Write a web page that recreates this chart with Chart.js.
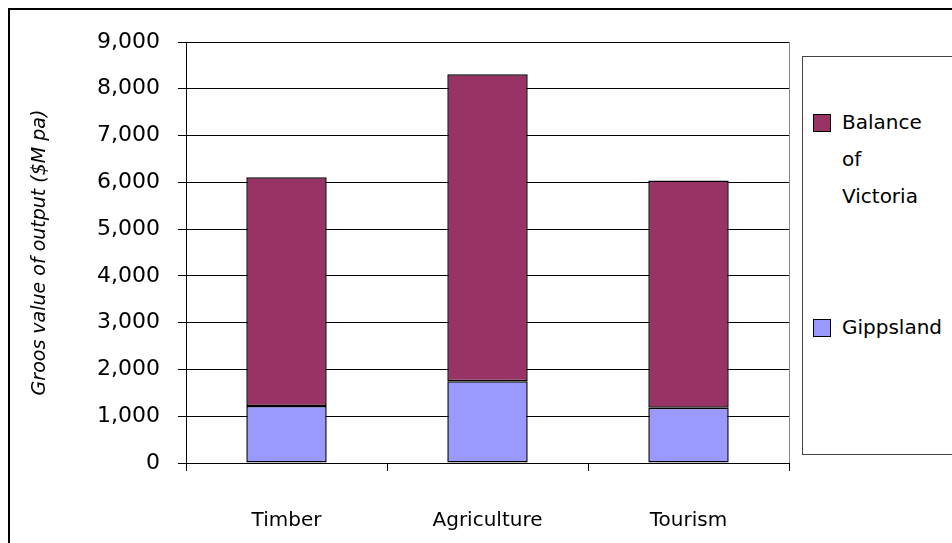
<!DOCTYPE html>
<html lang="en">
<head>
    <meta charset="UTF-8">
    <title>Gross value of output - Gippsland vs Balance of Victoria</title>
    <script src="https://cdn.jsdelivr.net/npm/chart.js"></script>
    <style>
        body { margin: 0; overflow: hidden; background: #fff; font-family: 'Comic Sans MS', 'DejaVu Sans', sans-serif; }
        #wrap { position: relative; width: 952px; height: 543px; overflow: hidden; }
        #frame { position: absolute; left: 8px; top: 8px; width: 1000px; height: 600px; border: 2px solid #000; }
        #chart { position: absolute; left: 0; top: 0; }
        #legend { position: absolute; left: 802px; top: 56px; width: 200px; height: 397px; border: 1px solid #444; background: #fff; }
        .item { position: absolute; left: 10px; font-size: 20px; line-height: 37px; color: #000; }
        .swatch { position: absolute; left: 0; top: 10px; width: 16px; height: 16px; border: 1.5px solid #000; }
        .label { margin-left: 29px; width: 92px; }
    </style>
</head>
<body>
<div id="wrap">
    <div id="frame"></div>
    <canvas id="chart" width="952" height="543"></canvas>
    <div id="legend"></div>
</div>

<script>
    // categories and stacked values ($M pa)
    const sectors = ["Timber", "Agriculture", "Tourism"];
    const gippsland = [1220, 1750, 1180];
    const balanceOfVictoria = [4890, 6560, 4860];
    const seriesNames = ["Gippsland", "Balance of Victoria"];
    const seriesColors = ["#9999FF", "#993366"];
    const yTickStep = 1000;
    const yMax = 9000;

    const fontFamily = "'Comic Sans MS', 'DejaVu Sans', sans-serif";

    // thin grey frame on the right side of the plot area
    const plotFrame = {
        id: "plotFrame",
        afterDraw(chart) {
            const { ctx, chartArea } = chart;
            ctx.save();
            ctx.strokeStyle = "#888";
            ctx.lineWidth = 1;
            ctx.beginPath();
            ctx.moveTo(Math.round(chartArea.right) + 0.5, chartArea.top);
            ctx.lineTo(Math.round(chartArea.right) + 0.5, chartArea.bottom);
            ctx.stroke();
            ctx.restore();
        }
    };

    new Chart(document.getElementById("chart"), {
        type: "bar",
        data: {
            labels: sectors,
            datasets: [
                { label: seriesNames[0], data: gippsland, backgroundColor: seriesColors[0] },
                { label: seriesNames[1], data: balanceOfVictoria, backgroundColor: seriesColors[1] }
            ].map(ds => Object.assign(ds, {
                borderColor: "#000",
                borderWidth: 1.5,
                borderSkipped: false,
                categoryPercentage: 1,
                barPercentage: 0.4
            }))
        },
        options: {
            responsive: false,
            animation: false,
            layout: { padding: { top: 42, right: 163, left: 0, bottom: 0 } },
            plugins: { legend: { display: false }, tooltip: { enabled: false } },
            scales: {
                x: {
                    stacked: true,
                    afterFit: scale => { scale.height = 80; },
                    grid: { drawOnChartArea: false, drawTicks: true, tickLength: 8, color: "#000" },
                    border: { color: "#000", width: 1 },
                    ticks: { color: "#000", padding: 38, font: { family: fontFamily, size: 20 } }
                },
                y: {
                    stacked: true,
                    min: 0,
                    max: yMax,
                    afterFit: scale => { scale.width = 186; },
                    grid: { color: "#000", tickLength: 8 },
                    border: { color: "#000", width: 1 },
                    ticks: {
                        stepSize: yTickStep,
                        color: "#000",
                        padding: 18,
                        font: { family: fontFamily, size: 22 },
                        callback: v => v.toLocaleString("en-US")
                    },
                    title: {
                        display: true,
                        text: "Groos value of output ($M pa)",
                        color: "#000",
                        padding: { top: 29 },
                        font: { family: fontFamily, size: 19, style: "italic" }
                    }
                }
            }
        },
        plugins: [plotFrame]
    });

    // legend box, listed top series first
    const legend = document.getElementById("legend");
    const legendTops = [47, 252];
    [1, 0].forEach((i, n) => {
        const item = document.createElement("div");
        item.className = "item";
        item.style.top = legendTops[n] + "px";
        item.innerHTML = '<span class="swatch" style="background:' + seriesColors[i] + '"></span>' +
            '<div class="label"' + (i === 0 ? ' style="white-space:nowrap"' : '') + '>' + seriesNames[i] + '</div>';
        legend.appendChild(item);
    });
</script>
</body>
</html>
